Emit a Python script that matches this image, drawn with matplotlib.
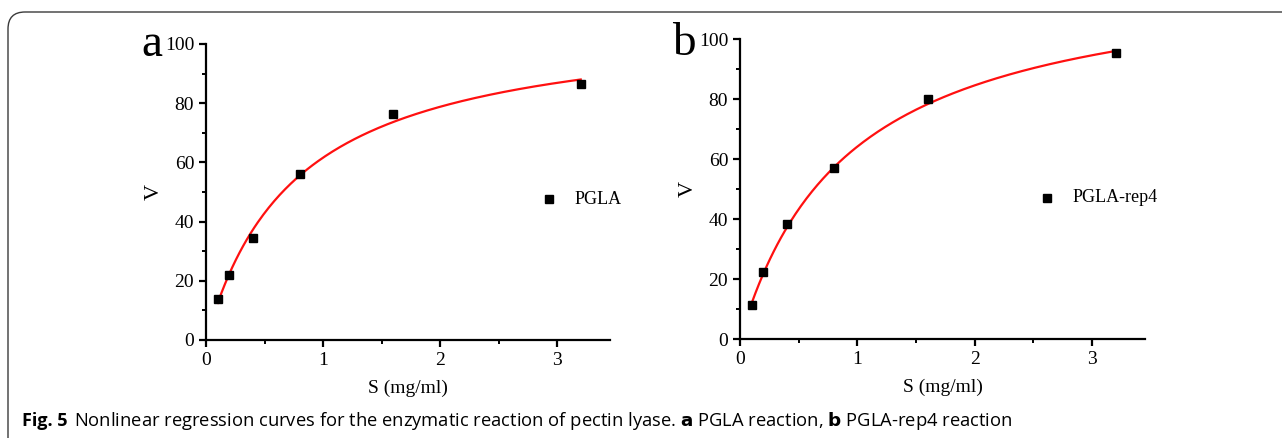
import numpy as np
import matplotlib
matplotlib.use('Agg')
import matplotlib.pyplot as plt
from matplotlib.path import Path
from matplotlib.patches import PathPatch

# substrate concentrations (mg/ml)
s_conc = [0.1, 0.2, 0.4, 0.8, 1.6, 3.2]
# measured reaction rates
v_pgla = [14, 21.8, 34.5, 56, 76.5, 86.5]
v_rep4 = [11.5, 22.5, 38.5, 57, 80, 95.5]
# Michaelis-Menten fit parameters
fit_pgla = (109.3, 0.774)   # Vmax, Km
fit_rep4 = (124.0, 0.933)

labels = ['PGLA', 'PGLA-rep4']
panels = ['a', 'b']

plt.rcParams['font.family'] = ['Liberation Serif', 'DejaVu Serif']

W, H = 1282, 438
fig = plt.figure(figsize=(W / 100, H / 100), dpi=100)

def px_axes(l, r, t, b):
    return fig.add_axes([l / W, 1 - b / H, (r - l) / W, (b - t) / H])

axes = [px_axes(206, 610, 44, 340), px_axes(740, 1145, 39, 339)]
leg_pos = [(549, 199), (1047, 198)]
lab_pos = [(152, 56), (684, 55)]

for ax, v, fit, lab, pan, lp, pp in zip(axes, [v_pgla, v_rep4], [fit_pgla, fit_rep4],
                                      labels, panels, leg_pos, lab_pos):
    vmax, km = fit
    xs = np.linspace(s_conc[0], s_conc[-1], 200)
    ax.plot(xs, vmax * xs / (km + xs), color='#ff1010', lw=1.6, zorder=2)
    ax.plot(s_conc, v, 's', color='black', ms=6, ls='none', zorder=3)
    ax.set_xlim(0, 3.45)
    ax.set_ylim(0, 100)
    ax.set_xticks([0, 1, 2, 3])
    ax.set_xticks([0.5, 1.5, 2.5], minor=True)
    ax.set_yticks([0, 20, 40, 60, 80, 100])
    ax.set_yticks([10, 30, 50, 70, 90], minor=True)
    ax.spines['top'].set_visible(False)
    ax.spines['right'].set_visible(False)
    for sp in ['left', 'bottom']:
        ax.spines[sp].set_linewidth(1.6)
    ax.tick_params(which='major', direction='out', length=5, width=1.6, labelsize=14)
    ax.tick_params(which='minor', direction='out', length=3, width=1.4)
    ax.set_xlabel('S (mg/ml)', fontsize=14, labelpad=8)
    ax.set_ylabel('V', fontsize=16, labelpad=1)
    # legend drawn by hand
    fig.lines.append(plt.Line2D([lp[0] / W], [1 - lp[1] / H], marker='s', color='black',
                                ms=6, ls='none', transform=fig.transFigure))
    fig.text((lp[0] + 26) / W, 1 - lp[1] / H, lab, fontsize=13,
             va='center', ha='left')
    fig.text(pp[0] / W, 1 - pp[1] / H, pan, fontsize=34,
             va='baseline', ha='center')

# rounded frame around the figure
r = 17
verts = [(8, H + 5), (8, 12 + r), (8, 12), (8 + r, 12), (W + 5, 12)]
codes = [Path.MOVETO, Path.LINETO, Path.CURVE3, Path.CURVE3, Path.LINETO]
verts = [(x / W, 1 - y / H) for x, y in verts]
fig.patches.append(PathPatch(Path(verts, codes), fill=False, edgecolor='#3a3a3a', lw=1.0,
                             transform=fig.transFigure))

sans = ['Open Sans', 'DejaVu Sans']
fig.text(22 / W, 1 - 426 / H, 'Fig. 5', family=sans, fontweight='bold', fontsize=13,
         va='baseline')
fig.text(74 / W, 1 - 426 / H,
         'Nonlinear regression curves for the enzymatic reaction of pectin lyase. '
         r'$\mathbf{a}$ PGLA reaction, $\mathbf{b}$ PGLA-rep4 reaction',
         family=sans, fontsize=13.2, va='baseline')

fig.savefig('out.png', dpi=100)
